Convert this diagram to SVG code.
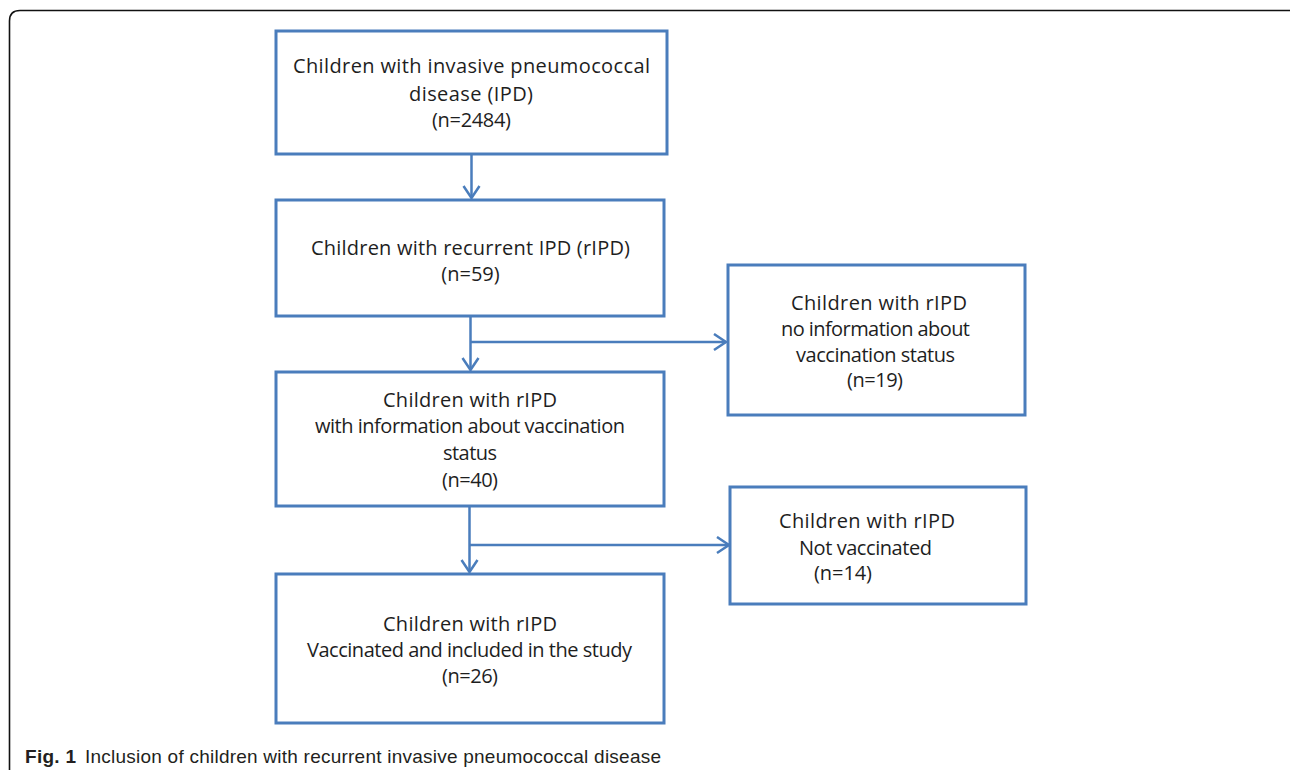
<svg xmlns="http://www.w3.org/2000/svg" width="1290" height="770" viewBox="0 0 1290 770">
<defs>
<style>
.box{fill:#ffffff;stroke:#4a7dbc;stroke-width:3}
.t{font-family:"Open Sans","DejaVu Sans",sans-serif;font-size:20px;fill:#1e1e1e;text-anchor:middle}
.conn{fill:none;stroke:#4a7dbc;stroke-width:2.5}
.cap{font-family:"Liberation Sans",Arial,sans-serif;font-size:19px;fill:#231f20}
</style>
<marker id="arr" markerUnits="userSpaceOnUse" markerWidth="18" markerHeight="20" refX="13" refY="9" orient="auto">
<path d="M1,1 L13,9 L1,17" fill="none" stroke="#4a7dbc" stroke-width="2.5"/>
</marker>
</defs>
<rect x="0" y="0" width="1290" height="770" fill="#ffffff"/>
<path d="M9.5,780 V21 Q9.5,10.5 20,10.5 H1300" fill="none" stroke="#111111" stroke-width="1.6"/>

<g id="connectors">
<path class="conn" d="M471.5,154 V198" marker-end="url(#arr)"/>
<path class="conn" d="M470.5,316 V370" marker-end="url(#arr)"/>
<path class="conn" d="M470.5,342 H726" marker-end="url(#arr)"/>
<path class="conn" d="M469.5,506 V572" marker-end="url(#arr)"/>
<path class="conn" d="M469.5,545 H729" marker-end="url(#arr)"/>
</g>

<g id="n1">
<rect class="box" x="276" y="31" width="391" height="123"/>
<text class="t" x="471.5" y="73" textLength="357">Children with invasive pneumococcal</text>
<text class="t" x="471" y="101" textLength="124">disease (IPD)</text>
<text class="t" x="471.5" y="127" textLength="79">(n=2484)</text>
</g>

<g id="n2">
<rect class="box" x="276" y="200" width="388" height="116"/>
<text class="t" x="470.5" y="255" textLength="319">Children with recurrent IPD (rIPD)</text>
<text class="t" x="470.5" y="281">(n=59)</text>
</g>

<g id="n3">
<rect class="box" x="276" y="372" width="388" height="134"/>
<text class="t" x="470" y="407" textLength="174">Children with rIPD</text>
<text class="t" x="470" y="433" textLength="310">with information about vaccination</text>
<text class="t" x="470" y="460" textLength="54">status</text>
<text class="t" x="470" y="487" textLength="56">(n=40)</text>
</g>

<g id="n4">
<rect class="box" x="728" y="265" width="297" height="150"/>
<text class="t" x="879" y="310" textLength="176">Children with rIPD</text>
<text class="t" x="875.5" y="336" textLength="189">no information about</text>
<text class="t" x="875.5" y="362" textLength="159">vaccination status</text>
<text class="t" x="875" y="387" textLength="56">(n=19)</text>
</g>

<g id="n5">
<rect class="box" x="276" y="574" width="388" height="149"/>
<text class="t" x="470" y="631" textLength="174">Children with rIPD</text>
<text class="t" x="469.5" y="657" textLength="325">Vaccinated and included in the study</text>
<text class="t" x="470" y="683" textLength="56">(n=26)</text>
</g>

<g id="n6">
<rect class="box" x="730" y="487" width="296" height="117"/>
<text class="t" x="867" y="528" textLength="176">Children with rIPD</text>
<text class="t" x="865.5" y="555" textLength="133">Not vaccinated</text>
<text class="t" x="843" y="580" textLength="58">(n=14)</text>
</g>

<g id="caption">
<text class="cap" x="25" y="763" font-weight="bold" textLength="51">Fig. 1</text>
<text class="cap" x="85" y="763" textLength="576">Inclusion of children with recurrent invasive pneumococcal disease</text>
</g>
</svg>
